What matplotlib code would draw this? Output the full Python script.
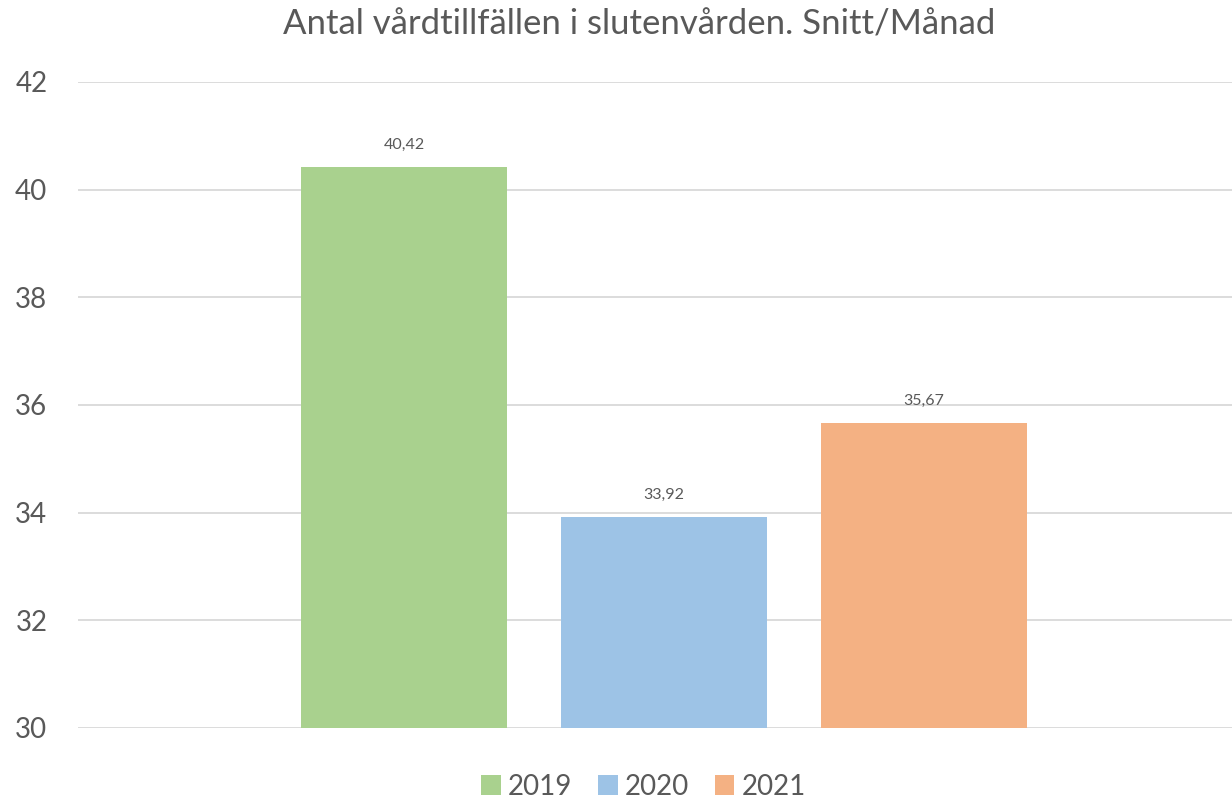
import matplotlib
matplotlib.use('Agg')
import matplotlib.pyplot as plt
from matplotlib.patches import Patch

years = ['2019', '2020', '2021']
values = [40.42, 33.92, 35.67]
colors = ['#A9D18E', '#9DC3E6', '#F4B183']
yticks = [30, 32, 34, 36, 38, 40, 42]

plt.rcParams['font.family'] = ['Lato', 'DejaVu Sans']
textcol = '#595959'

fig = plt.figure(figsize=(12.32, 8.02), dpi=100)
ax = fig.add_axes([0.0633, 0.0923, 0.9367, 0.8055])

offsets = [-1, 0, 1]
width = 0.792
handles = []
for off, val, col, yr in zip(offsets, values, colors, years):
    ax.bar(off, val - 30, width, bottom=30, color=col, zorder=3)
    ax.annotate('{:.2f}'.format(val).replace('.', ','), (off, val),
                xytext=(0, 11), textcoords='offset points',
                ha='center', va='bottom', fontsize=11.5, color=textcol)
    handles.append(Patch(facecolor=col, label=yr))

ax.set_xlim(-2.254, 2.185)
ax.set_ylim(30, 42)
ax.set_yticks(yticks)
ax.set_xticks([])
ax.yaxis.grid(True, color='#D9D9D9', linewidth=1.3, zorder=0)
ax.tick_params(axis='y', length=0, labelsize=20, labelcolor=textcol, pad=22)
for s in ax.spines.values():
    s.set_visible(False)

fig.text(0.519, 0.969, 'Antal vårdtillfällen i slutenvården. Snitt/Månad',
         fontsize=25, color=textcol, ha='center', va='center')

fig.legend(handles=handles, loc='center', bbox_to_anchor=(0.5223, 0.019),
           ncol=3, frameon=False, fontsize=20, labelcolor=textcol,
           handlelength=0.7, handleheight=0.7, handletextpad=0.25, columnspacing=0.94)

fig.savefig('out.png', dpi=100)
